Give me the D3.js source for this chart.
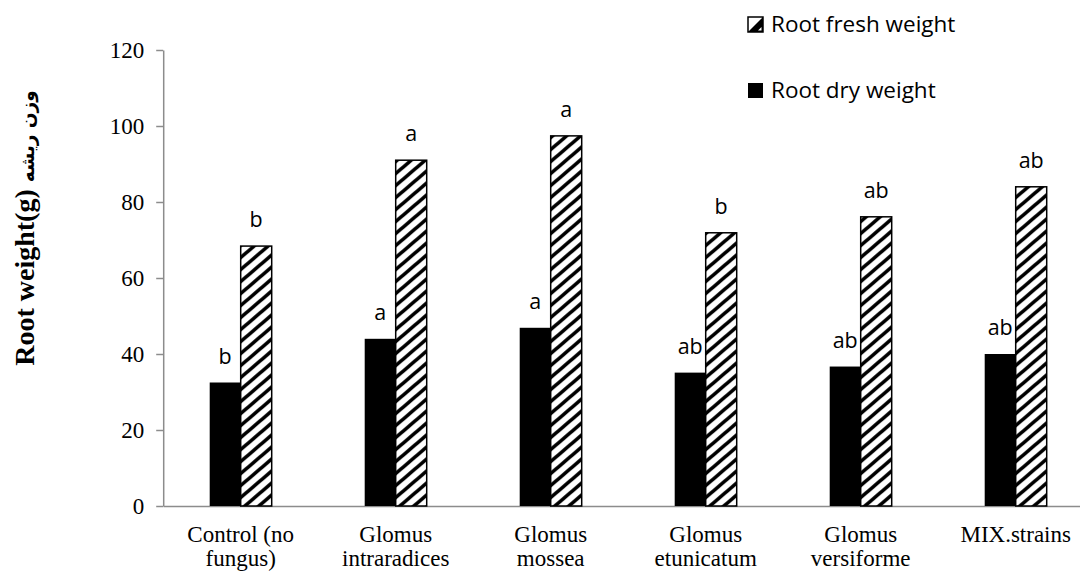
<!DOCTYPE html>
<html>
<head>
<meta charset="utf-8">
<script src="https://cdn.jsdelivr.net/npm/d3@7"></script>
<style>
  body { margin: 0; background: #fff; }
  svg { display: block; }
</style>
</head>
<body>
<svg id="chart" width="1080" height="573"></svg>
<script>
// Chart data
const categories = ["Control (no fungus)", "Glomus intraradices", "Glomus mossea", "Glomus etunicatum", "Glomus versiforme", "MIX.strains"];
const categoryLines = [["Control (no", "fungus)"], ["Glomus", "intraradices"], ["Glomus", "mossea"], ["Glomus", "etunicatum"], ["Glomus", "versiforme"], ["MIX.strains"]];
const dryWeight = [32.5, 44.0, 46.9, 35.1, 36.7, 40.0];
const freshWeight = [68.4, 91.0, 97.4, 71.9, 76.1, 84.0];
const dryLetters = ["b", "a", "a", "ab", "ab", "ab"];
const freshLetters = ["b", "a", "a", "b", "ab", "ab"];
const yTicks = [0, 20, 40, 60, 80, 100, 120];
const seriesKeys = ["dry", "fresh"];

const svg = d3.select("#chart");
const axisColor = "#8c8c8c";

// Plot area
const plotLeft = 163.2, step = 155, plotTop = 50, plotBottom = 506;

const x = d3.scaleBand()
    .domain(categories)
    .range([plotLeft, plotLeft + step * categories.length])
    .padding(0);

const xSub = d3.scaleBand()
    .domain(seriesKeys)
    .range([0, x.bandwidth()])
    .paddingInner(0)
    .paddingOuter(1.5);

const y = d3.scaleLinear()
    .domain([0, 120])
    .range([plotBottom, plotTop]);

// Hatch pattern for the fresh weight bars (upward diagonal stripes)
const defs = svg.append("defs");
const pw = 14, ph = 12;
const pattern = defs.append("pattern")
    .attr("id", "hatch")
    .attr("patternUnits", "userSpaceOnUse")
    .attr("width", pw)
    .attr("height", ph);
pattern.append("rect").attr("width", pw).attr("height", ph).attr("fill", "#fff");
pattern.append("path")
    .attr("d", `M0,${ph} L${pw},0 M${-pw},${ph} L${pw},${-ph} M0,${2 * ph} L${2 * pw},0`)
    .attr("stroke", "#000")
    .attr("stroke-width", 3.6);

// Y axis
const yAxis = svg.append("g")
    .attr("transform", `translate(${plotLeft},0)`)
    .call(d3.axisLeft(y).tickValues(yTicks).tickSize(7).tickPadding(12).tickSizeOuter(0));
yAxis.select(".domain").attr("stroke", axisColor).attr("stroke-width", 1.5);
yAxis.selectAll(".tick line").attr("stroke", axisColor).attr("stroke-width", 1.5);
yAxis.selectAll(".tick text")
    .attr("font-family", "'Liberation Serif', 'Times New Roman', serif")
    .attr("font-size", 23)
    .attr("fill", "#000");

// X axis (line only, labels drawn below)
const xAxis = svg.append("g")
    .attr("transform", `translate(0,${plotBottom})`)
    .call(d3.axisBottom(x).tickSize(0).tickFormat(""));
xAxis.select(".domain").attr("stroke", axisColor).attr("stroke-width", 1.5);

// Bars
const groups = svg.append("g")
    .selectAll("g")
    .data(categories)
    .join("g")
    .attr("transform", d => `translate(${x(d)},0)`);

groups.append("rect")
    .attr("x", xSub("dry"))
    .attr("y", (d, i) => y(dryWeight[i]))
    .attr("width", xSub.bandwidth())
    .attr("height", (d, i) => plotBottom - y(dryWeight[i]))
    .attr("fill", "#000");

groups.append("rect")
    .attr("x", xSub("fresh"))
    .attr("y", (d, i) => y(freshWeight[i]))
    .attr("width", xSub.bandwidth())
    .attr("height", (d, i) => plotBottom - y(freshWeight[i]))
    .attr("fill", "url(#hatch)")
    .attr("stroke", "#000")
    .attr("stroke-width", 1.5);

// Significance letters
const letterFont = "'Open Sans', 'Noto Sans', sans-serif";
groups.append("text")
    .attr("x", xSub("dry") + xSub.bandwidth() / 2)
    .attr("y", (d, i) => y(dryWeight[i]) - 19)
    .attr("text-anchor", "middle")
    .attr("font-family", letterFont)
    .attr("font-size", 21.5)
    .text((d, i) => dryLetters[i]);

groups.append("text")
    .attr("x", xSub("fresh") + xSub.bandwidth() / 2)
    .attr("y", (d, i) => y(freshWeight[i]) - 19)
    .attr("text-anchor", "middle")
    .attr("font-family", letterFont)
    .attr("font-size", 21.5)
    .text((d, i) => freshLetters[i]);

// Category labels
groups.append("text")
    .attr("text-anchor", "middle")
    .attr("font-family", "'Liberation Serif', 'Times New Roman', serif")
    .attr("font-size", 23)
    .selectAll("tspan")
    .data((d, i) => categoryLines[i])
    .join("tspan")
    .attr("x", x.bandwidth() / 2)
    .attr("y", (d, j) => 542 + j * 24)
    .text(d => d);

// Y axis title
const yTitle = svg.append("text")
    .attr("transform", `translate(34,228) rotate(-90)`)
    .attr("text-anchor", "middle")
    .attr("font-weight", "bold");
yTitle.append("tspan")
    .attr("font-family", "'Liberation Serif', 'Times New Roman', serif")
    .attr("font-size", 28)
    .text("Root weight(g) ");
yTitle.append("tspan")
    .attr("font-family", "'DejaVu Sans', sans-serif")
    .attr("font-size", 18.5)
    .text("وزن ریشه");

// Legend
const legend = svg.append("g").attr("font-family", letterFont).attr("font-size", 22.5);
const sw = 15;

const freshItem = legend.append("g").attr("transform", "translate(748,17)");
freshItem.append("rect")
    .attr("width", sw).attr("height", sw)
    .attr("fill", "#fff").attr("stroke", "#000").attr("stroke-width", 1.5);
freshItem.append("path")
    .attr("d", `M0,${sw} L${sw},0 L${sw},${sw} Z`)
    .attr("fill", "#000");
freshItem.append("path")
    .attr("d", `M${sw - 5},${sw - 1.5} L${sw - 1.5},${sw - 1.5} L${sw - 1.5},${sw - 5} Z`)
    .attr("fill", "#fff");
freshItem.append("text")
    .attr("x", 23).attr("y", sw / 2).attr("dy", "0.35em")
    .text("Root fresh weight");

const dryItem = legend.append("g").attr("transform", "translate(748,83)");
dryItem.append("rect")
    .attr("width", sw).attr("height", sw)
    .attr("fill", "#000");
dryItem.append("text")
    .attr("x", 23).attr("y", sw / 2).attr("dy", "0.35em")
    .text("Root dry weight");
</script>
</body>
</html>
